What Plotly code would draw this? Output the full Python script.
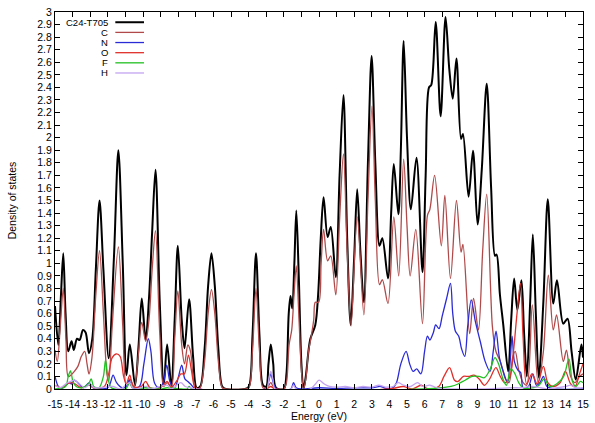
import plotly.graph_objects as go

# ---------------- data ----------------
total_E = [-15.0, -14.81, -14.66, -14.53, -14.4, -14.25, -14.06, -13.93, -13.75, -13.6, -13.41, -13.26, -13.07,
           -12.88, -12.68, -12.47, -12.25, -11.95, -11.65, -11.40, -11.15, -10.94, -10.75, -10.45, -10.25, -10.07,
           -9.85, -9.66, -9.48, -9.29, -9.05, -8.82, -8.63, -8.39, -8.2, -8.02, -7.8, -7.64, -7.38, -7.15, -6.95,
           -6.75, -6.5, -6.3, -6.11, -5.92, -5.72, -5.5, -5.3, -4.2, -3.98, -3.78, -3.58, -3.38, -3.18, -3.0,
           -2.87, -2.74, -2.6, -2.45, -2.0, -1.85, -1.72, -1.62, -1.52, -1.4, -1.29, -1.15, -1.0, -0.88, -0.75,
           -0.6, -0.49, -0.21, -0.05, 0.1, 0.26, 0.49, 0.67, 0.955, 1.17, 1.39, 1.6, 1.80, 2.0, 2.17, 2.35, 2.55,
           2.78, 2.99, 3.2, 3.44, 3.60, 3.92, 4.1, 4.25, 4.51, 4.65, 4.81, 5.0, 5.22, 5.54, 5.88, 6.06, 6.25,
           6.38, 6.63, 6.91, 7.19, 7.40, 7.60, 7.81, 8.07, 8.18, 8.50, 8.75, 9.01, 9.25, 9.53, 9.78, 10.0, 10.09,
           10.28, 10.47, 10.75, 10.92, 11.09, 11.27, 11.50, 11.65, 11.81, 12.0, 12.15, 12.32, 12.49, 12.75, 13.0,
           13.31, 13.52, 13.88, 14.12, 14.35, 14.59, 14.91, 15.0]
total_D = [0.66, 0.35, 0.75, 1.08, 0.6, 0.30, 0.38, 0.31, 0.40, 0.39, 0.47, 0.45, 0.285,
           0.40, 0.95, 1.50, 0.95, 0.245, 1.05, 1.90, 1.0, 0.11, 0.355, 0.03, 0.35, 0.72,
           0.39, 0.72, 1.25, 1.745, 0.7, 0.03, 0.355, 0.03, 0.55, 1.14, 0.55, 0.325, 0.715, 0.25, 0.01,
           0.02, 0.32, 0.82, 1.08, 0.82, 0.32, 0.02, 0.0, 0.0, 0.02, 0.42, 1.08, 0.42, 0.03, 0.02,
           0.2, 0.355, 0.2, 0.01, 0.0, 0.12, 0.6, 0.74, 0.64, 1.0, 1.42, 0.9, 0.2, 0.0, 0.1,
           0.3, 0.40, 0.51, 0.75, 1.2, 1.525, 1.21, 1.29, 0.89, 1.7, 2.34, 1.2, 0.51, 1.05, 1.59, 1.1, 0.69,
           1.8, 2.65, 1.8, 1.14, 1.20, 0.88, 1.4, 1.79, 1.39, 1.9, 2.77, 2.0, 1.43, 1.84, 0.93, 1.70, 2.40,
           2.42, 2.92, 2.17, 2.96, 2.55, 2.31, 2.63, 1.99, 2.03, 1.53, 1.895, 1.31, 1.75, 2.43, 1.6, 1.06, 1.07,
           0.75, 0.51, 0.14, 0.55, 0.88, 0.63, 0.865, 0.45, 0.10, 0.7, 1.23, 0.6, 0.09, 0.7, 1.51,
           0.68, 0.865, 0.52, 0.56, 0.3, 0.075, 0.355, 0.25]

C_E = [-15.0, -14.87, -14.7, -14.53, -14.38, -14.25, -14.1, -13.9, -13.7, -13.5, -13.31, -13.18, -13.07,
       -12.9, -12.68, -12.47, -12.25, -12.05, -11.95, -11.75, -11.40, -11.15, -10.95, -10.75, -10.5, -10.28,
       -10.07, -9.85, -9.66, -9.48, -9.29, -9.05, -8.82, -8.63, -8.39, -8.2, -8.02, -7.8, -7.64, -7.45, -7.3,
       -7.1, -6.9, -6.75, -6.5, -6.3, -6.11, -5.92, -5.72, -5.5, -5.3, -4.2, -3.98, -3.78, -3.58, -3.38, -3.18,
       -2.9, -2.74, -2.55, -2.0, -1.85, -1.7, -1.55, -1.42, -1.29, -1.15, -1.0, -0.88, -0.75, -0.6, -0.49,
       -0.3, -0.21, -0.02, 0.12, 0.26, 0.49, 0.67, 0.955, 1.17, 1.39, 1.6, 1.82, 2.17, 2.55, 2.78, 3.01, 3.2,
       3.44, 3.60, 3.92, 4.25, 4.53, 4.81, 5.0, 5.18, 5.50, 5.88, 6.16, 6.3, 6.57, 6.95, 7.15, 7.47, 7.81,
       8.07, 8.18, 8.56, 8.78, 9.06, 9.3, 9.53, 9.85, 10.05, 10.3, 10.6, 10.8, 11.0, 11.15, 11.35, 11.6, 11.8,
       12.12, 12.45, 12.75, 13.03, 13.31, 13.5, 13.88, 14.06, 14.3, 14.55, 14.8, 15.0]
C_D = [0.31, 0.22, 0.5, 0.80, 0.4, 0.10, 0.11, 0.14, 0.18, 0.26, 0.30, 0.2, 0.12,
       0.25, 0.75, 1.10, 0.6, 0.12, 0.06, 0.5, 1.13, 0.5, 0.03, 0.08, 0.02, 0.25,
       0.53, 0.38, 0.55, 0.95, 1.26, 0.45, 0.02, 0.05, 0.02, 0.4, 0.78, 0.35, 0.2, 0.35, 0.3,
       0.05, 0.0, 0.01, 0.22, 0.6, 0.79, 0.6, 0.22, 0.01, 0.0, 0.0, 0.01, 0.3, 0.80, 0.3, 0.01,
       0.02, 0.05, 0.01, 0.0, 0.05, 0.35, 0.47, 0.75, 0.98, 0.6, 0.15, 0.0, 0.08, 0.3, 0.38,
       0.55, 0.69, 0.69, 1.0, 1.27, 1.02, 1.06, 0.75, 1.35, 1.87, 1.1, 0.50, 1.37, 0.59, 1.5, 2.25, 1.5,
       0.83, 0.87, 0.68, 1.37, 0.90, 1.83, 1.3, 0.90, 1.27, 0.52, 1.38, 1.43, 1.70, 1.14, 1.54, 0.88, 1.50,
       1.09, 1.15, 0.44, 0.72, 0.47, 1.1, 1.55, 0.5, 0.3, 0.22, 0.08, 0.05, 0.25, 0.3, 0.15, 0.05, 0.03,
       0.67, 0.05, 0.3, 0.905, 0.47, 0.59, 0.22, 0.31, 0.1, 0.05, 0.1, 0.12]

N_E = [-15.0, -14.85, -14.7, -14.45, -14.2, -14.05, -13.9, -13.7, -13.4, -13.05, -12.85, -12.0, -11.85, -11.7,
       -11.5, -11.2, -10.95, -10.79, -10.6, -10.2, -9.95, -9.7, -9.55, -9.35, -9.1, -8.85, -8.65, -8.45, -8.2,
       -7.98, -7.8, -7.62, -7.45, -7.3, -7.1, -6.9, -3.1, -2.9, -2.74, -2.58, -2.4, -1.6, -1.45, -1.3, -1.0,
       0.0, 1.0, 2.0, 3.0, 3.5, 3.8, 4.2, 4.4, 4.65, 4.95, 5.15, 5.35, 5.55, 5.79, 6.0, 6.16, 6.3, 6.5, 6.63,
       6.82, 7.0, 7.25, 7.47, 7.6, 7.75, 7.94, 8.1, 8.28, 8.45, 8.65, 8.88, 9.16, 9.44, 9.72, 9.9, 10.06,
       10.25, 10.47, 10.71, 10.85, 10.97, 11.1, 11.3, 11.46, 11.6, 11.9, 12.15, 12.35, 12.55, 12.75, 12.95,
       13.5, 15.0]
N_D = [0.10, 0.03, 0.0, 0.02, 0.05, 0.04, 0.07, 0.05, 0.01, 0.05, 0.01, 0.01, 0.05, 0.11,
       0.05, 0.01, 0.02, 0.07, 0.01, 0.02, 0.2, 0.40, 0.3, 0.05, 0.01, 0.05, 0.19, 0.05, 0.01,
       0.1, 0.19, 0.08, 0.06, 0.04, 0.01, 0.0, 0.0, 0.04, 0.12, 0.04, 0.0, 0.0, 0.05, 0.01, 0.0,
       0.01, 0.005, 0.01, 0.01, 0.02, 0.005, 0.01, 0.05, 0.2, 0.30, 0.2, 0.14, 0.16, 0.12, 0.3, 0.42, 0.39,
       0.45, 0.51, 0.48, 0.58, 0.72, 0.84, 0.6, 0.46, 0.42, 0.32, 0.26, 0.5, 0.71, 0.54, 0.38, 0.22, 0.14,
       0.3, 0.46, 0.25, 0.14, 0.05, 0.2, 0.42, 0.22, 0.15, 0.13, 0.01, 0.02, 0.12, 0.03, 0.05, 0.10, 0.02,
       0.0, 0.0]

O_E = [-15.0, -14.6, -14.3, -14.05, -13.85, -13.5, -13.05, -12.8, -12.2, -11.95, -11.75, -11.5, -11.3,
       -11.1, -10.95, -10.75, -10.55, -10.1, -9.85, -9.6, -9.0, -8.63, -8.4, -8.1, -7.85, -7.65, -7.42,
       -7.25, -7.05, -6.9, -3.0, -2.74, -2.5, 4.0, 4.8, 5.3, 5.8, 6.2, 6.8, 7.1, 7.42, 7.7, 7.9, 8.2, 8.5,
       8.8, 9.1, 9.4, 9.7, 10.05, 10.3, 10.55, 10.85, 11.05, 11.25, 11.45, 11.6, 11.8, 12.1, 12.4, 12.75,
       13.0, 13.3, 13.7, 14.0, 14.3, 14.55, 14.8, 15.0]
O_D = [0.03, 0.01, 0.04, 0.05, 0.04, 0.01, 0.03, 0.01, 0.02, 0.12, 0.25, 0.28, 0.26,
       0.1, 0.04, 0.11, 0.02, 0.02, 0.06, 0.01, 0.01, 0.06, 0.01, 0.06, 0.12, 0.12, 0.27,
       0.15, 0.01, 0.0, 0.0, 0.02, 0.0, 0.0, 0.02, 0.0, 0.03, 0.0, 0.02, 0.1, 0.17, 0.07, 0.06, 0.1, 0.1,
       0.11, 0.08, 0.03, 0.08, 0.17, 0.1, 0.05, 0.1, 0.3, 0.6, 0.84, 0.4, 0.04, 0.12, 0.04, 0.18,
       0.05, 0.02, 0.05, 0.14, 0.04, 0.02, 0.12, 0.2]

F_E = [-15.0, -14.4, -14.25, -14.12, -13.98, -13.8, -13.5, -13.1, -12.94, -12.8, -12.5, -12.25, -12.13,
       -11.98, -11.8, -11.0, -10.75, -10.55, -9.9, -9.0, -8.63, -7.5, -7.38, -7.2, 6.0, 7.0, 7.5, 7.9, 8.3,
       8.7, 9.1, 9.4, 9.7, 10.0, 10.2, 10.45, 10.65, 10.9, 11.1, 11.35, 11.6, 12.2, 12.5, 12.8, 13.1, 13.5,
       13.9, 14.2, 14.4, 14.6, 14.85, 15.0]
F_D = [0.0, 0.02, 0.1, 0.145, 0.06, 0.02, 0.01, 0.04, 0.08, 0.02, 0.01, 0.1, 0.23,
       0.08, 0.01, 0.0, 0.05, 0.0, 0.01, 0.0, 0.01, 0.0, 0.02, 0.0, 0.0, 0.01, 0.02, 0.04, 0.07,
       0.1, 0.1, 0.09, 0.15, 0.25, 0.2, 0.08, 0.03, 0.16, 0.13, 0.05, 0.01, 0.01, 0.03, 0.08, 0.02, 0.04,
       0.1, 0.24, 0.06, 0.02, 0.06, 0.05]

H_E = [-15.0, -14.7, -14.3, -14.1, -13.9, -13.6, -13.3, -13.0, -12.8, -11.7, -11.3, -10.75, -10.55, -9.8,
       -9.6, -8.63, -8.4, -7.85, -7.6, -7.3, -7.0, -3.0, -2.85, -2.74, -2.62, -2.5, -1.6, -1.45, -1.3, -0.5,
       -0.2, 0.0, 0.3, 0.6, 1.0, 1.5, 2.0, 2.5, 3.0, 3.4, 3.8, 4.2, 4.5, 4.8, 5.2, 5.6, 5.9, 6.3, 6.8, 7.5,
       9.0, 11.0, 11.5, 12.1, 12.6, 13.0, 14.0, 14.3, 14.6, 15.0]
H_D = [0.03, 0.01, 0.05, 0.06, 0.07, 0.04, 0.01, 0.04, 0.01, 0.02, 0.0, 0.05, 0.0, 0.02,
       0.0, 0.03, 0.0, 0.05, 0.02, 0.01, 0.0, 0.0, 0.08, 0.14, 0.08, 0.0, 0.0, 0.03, 0.0, 0.0,
       0.04, 0.07, 0.04, 0.02, 0.015, 0.02, 0.01, 0.02, 0.015, 0.03, 0.015, 0.02, 0.05, 0.03, 0.02, 0.05,
       0.02, 0.03, 0.005, 0.0, 0.0, 0.01, 0.01, 0.02, 0.01, 0.0, 0.02, 0.03, 0.01, 0.01]

series_names = ["C24-T705", "C", "N", "O", "F", "H"]
x_ticks = list(range(-15, 16))
y_ticks = [round(i * 0.1, 1) for i in range(0, 31)]

# ---------------- styling ----------------
colors = ["#000000", "#b04a4a", "#2b2bd6", "#e0302c", "#22c022", "#c4a4f0"]
widths = [2.0, 1.3, 1.3, 1.3, 1.3, 1.3]
FONT = "Liberation Sans, Arial, Helvetica, sans-serif"
W, H = 595, 423
L, R, T, B = 55, 589, 12, 391

data = [(total_E, total_D), (C_E, C_D), (N_E, N_D), (O_E, O_D), (F_E, F_D), (H_E, H_D)]

fig = go.Figure()
for (xs, ys), name, col, w in zip(data, series_names, colors, widths):
    fig.add_trace(go.Scatter(x=xs, y=ys, mode="lines", name=name,
                             line=dict(color=col, width=w, shape="spline", smoothing=0.9),
                             showlegend=False, cliponaxis=True))

# gnuplot-like key: label on the left, line sample on the right
pw, ph = R - L, B - T
KEY_FS = 9.5
for i, (name, col, w) in enumerate(zip(series_names, colors, widths)):
    ypix = 22.3 + 10.2 * i
    yp = (B - ypix) / ph
    fig.add_annotation(xref="paper", yref="paper", x=(110 - L) / pw, y=yp, text=name,
                       showarrow=False, xanchor="right", yanchor="middle", borderpad=0,
                       font=dict(family=FONT, size=KEY_FS, color="#000"))
    fig.add_shape(type="line", xref="paper", yref="paper",
                  x0=(116 - L) / pw, x1=(145 - L) / pw, y0=yp, y1=yp,
                  line=dict(color=col, width=w))

axis_common = dict(showline=True, linecolor="#000", linewidth=1, mirror="ticks", ticks="inside",
                   ticklen=5, tickcolor="#000", showgrid=False, zeroline=False,
                   tickfont=dict(family=FONT, size=10.5, color="#000"))

fig.update_xaxes(range=[-15, 15], tickvals=x_ticks, tickangle=0, ticklabelstandoff=5,
                 ticktext=[("-" + str(-v)) if v < 0 else str(v) for v in x_ticks],
                 title=dict(text="Energy (eV)", font=dict(family=FONT, size=10.5, color="#000"), standoff=0),
                 **axis_common)
fig.update_yaxes(range=[0, 3], tickvals=y_ticks, ticktext=[("%g" % v) for v in y_ticks],
                 title=dict(text="Density of states", font=dict(family=FONT, size=10.5, color="#000"), standoff=18),
                 **axis_common)

fig.update_layout(width=W, height=H, margin=dict(l=L, r=W - R, t=T, b=H - B),
                  paper_bgcolor="white", plot_bgcolor="white",
                  font=dict(family=FONT, size=10.5, color="#000"))

fig.write_html("out.html")
